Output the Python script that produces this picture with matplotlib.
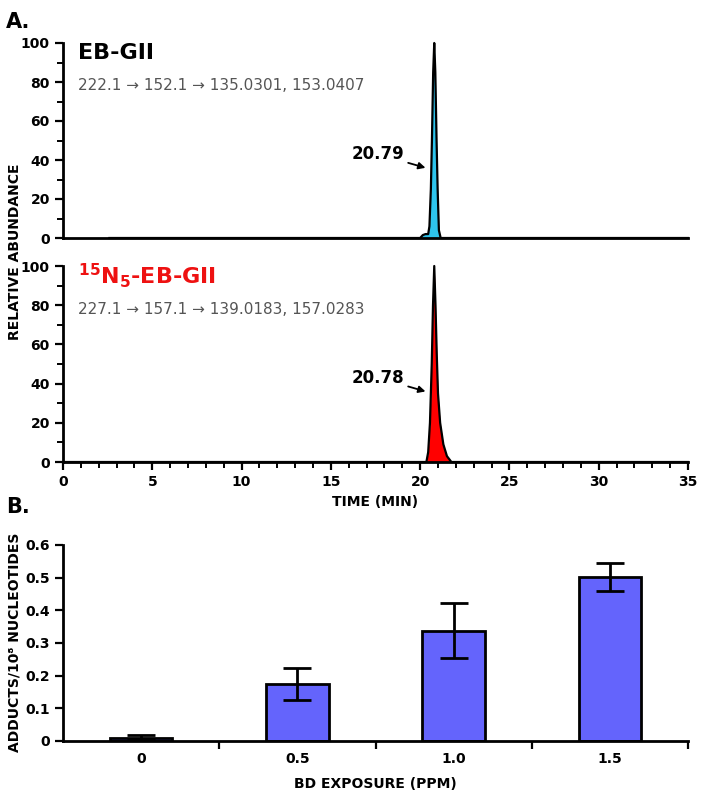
import numpy as np
import matplotlib
matplotlib.use('Agg')
import matplotlib.pyplot as plt
from matplotlib.ticker import MultipleLocator, FixedLocator, FixedFormatter

plt.rcParams['font.family'] = ['DejaVu Sans']
plt.rcParams['mathtext.fontset'] = 'dejavusans'

# chromatogram traces (time in min, relative abundance)
eb_time = [2.6, 20.0, 20.15, 20.3, 20.45, 20.52, 20.6, 20.66, 20.73, 20.79,
           20.85, 20.92, 20.98, 21.05, 21.15, 35.0]
eb_abund = [0, 0, 1.5, 2, 2, 6, 25, 50, 85, 100, 85, 50, 25, 4, 0, 0]

n15_time = [0.0, 20.35, 20.45, 20.55, 20.65, 20.72, 20.79, 20.86, 20.93, 21.0,
            21.12, 21.3, 21.5, 21.75, 35.0]
n15_abund = [0, 0, 5, 20, 50, 80, 100, 80, 55, 35, 20, 9, 3, 0, 0]

# adduct levels
exposure = ['0', '0.5', '1.0', '1.5']
adducts = [0.010, 0.175, 0.338, 0.502]
adducts_err = [0.008, 0.048, 0.083, 0.043]
bar_yticks = [0, 0.1, 0.2, 0.3, 0.4, 0.5, 0.6]
bar_ylabels = ['0', '0.1', '0.2', '0.3', '0.4', '0.5', '0.6']

fig = plt.figure(figsize=(7.04, 7.98), dpi=100)
W, H = 704.0, 798.0


def px_axes(left, top, right, bottom):
    return fig.add_axes([left / W, 1 - bottom / H, (right - left) / W, (bottom - top) / H])


def style(ax, lw=2):
    for s in ['top', 'right']:
        ax.spines[s].set_visible(False)
    for s in ['left', 'bottom']:
        ax.spines[s].set_linewidth(lw)
    ax.tick_params(which='major', direction='out', length=6, width=1.6, labelsize=10)
    ax.tick_params(which='minor', direction='out', length=4, width=1.4)
    for lab in ax.get_xticklabels() + ax.get_yticklabels():
        lab.set_fontweight('bold')


def chromatogram(ax, t, a, fill, title, title_color, subtitle, rt, show_x):
    ax.fill_between(t, a, 0, color=fill, lw=0)
    ax.plot(t, a, color='black', lw=1.6, clip_on=False)
    ax.set_xlim(0, 35)
    ax.set_ylim(0, 100)
    ax.xaxis.set_major_locator(MultipleLocator(5))
    ax.xaxis.set_minor_locator(MultipleLocator(1))
    ax.yaxis.set_major_locator(MultipleLocator(20))
    ax.yaxis.set_minor_locator(MultipleLocator(10))
    if not show_x:
        ax.tick_params(axis='x', which='both', bottom=False, labelbottom=False)
    style(ax)
    ax.text(0.024, 0.95, title, transform=ax.transAxes, fontsize=16,
            fontweight='bold', color=title_color, va='center', ha='left')
    ax.text(0.024, 0.78, subtitle, transform=ax.transAxes, fontsize=11,
            color='#555555', va='center', ha='left')
    ax.annotate(rt, xy=(20.3, 36), xytext=(19.1, 43), fontsize=12,
                fontweight='bold', ha='right', va='center',
                arrowprops=dict(arrowstyle='-|>', color='black', lw=1.3,
                                shrinkA=1, shrinkB=0, mutation_scale=10))


ax1 = px_axes(63, 43, 688, 238)
chromatogram(ax1, eb_time, eb_abund, '#2ec4ec', 'EB-GII', 'black',
             '222.1 \u2192 152.1 \u2192 135.0301, 153.0407', '20.79', False)

ax2 = px_axes(63, 266, 688, 462)
chromatogram(ax2, n15_time, n15_abund, '#ff0000', r'$\mathbf{^{15}N_5}$-EB-GII', '#ee1111',
             '227.1 \u2192 157.1 \u2192 139.0183, 157.0283', '20.78', True)

fig.text(375 / W, 1 - 502 / H, 'TIME (MIN)', ha='center', va='center',
         fontsize=10, fontweight='bold')
fig.text(15 / W, 1 - 252 / H, 'RELATIVE ABUNDANCE', rotation=90, ha='center',
         va='center', fontsize=10, fontweight='bold')
fig.text(6 / W, 1 - 22 / H, 'A.', fontsize=15, fontweight='bold', va='center')
fig.text(6 / W, 1 - 507 / H, 'B.', fontsize=15, fontweight='bold', va='center')

# bar chart
ax3 = px_axes(63, 545, 688, 741)
pos = np.arange(len(exposure))
ax3.bar(pos, adducts, width=0.4, color='#6464fc', edgecolor='black', lw=2,
        yerr=adducts_err, capsize=10,
        error_kw=dict(elinewidth=2, capthick=2, ecolor='black'))
ax3.set_xlim(-0.5, len(exposure) - 0.5)
ax3.set_ylim(0, 0.6)
ax3.yaxis.set_major_locator(FixedLocator(bar_yticks))
ax3.yaxis.set_major_formatter(FixedFormatter(bar_ylabels))
ax3.xaxis.set_major_locator(FixedLocator(pos + 0.5))
ax3.xaxis.set_major_formatter(FixedFormatter([''] * len(exposure)))
ax3.xaxis.set_minor_locator(FixedLocator(pos))
ax3.xaxis.set_minor_formatter(FixedFormatter(exposure))
style(ax3)
ax3.tick_params(axis='x', which='minor', length=0, pad=8, labelsize=10)
for lab in ax3.get_xticklabels(minor=True):
    lab.set_fontweight('bold')
ax3.set_xlabel('BD EXPOSURE (PPM)', fontsize=10, fontweight='bold', labelpad=8)
fig.text(15 / W, 1 - 642 / H, 'ADDUCTS/10\u2078 NUCLEOTIDES', rotation=90,
         ha='center', va='center', fontsize=10, fontweight='bold')

fig.savefig('out.png', dpi=100)
